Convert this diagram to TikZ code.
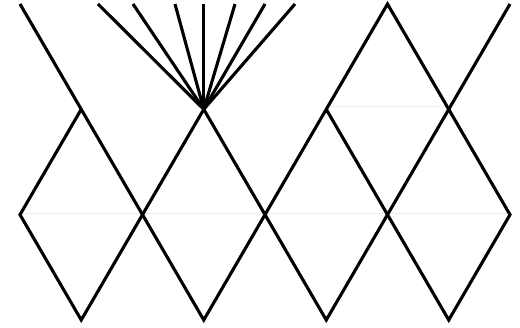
\documentclass[tikz,border=0pt]{standalone}
\begin{document}
\begin{tikzpicture}[x=1pt,y=-1pt,
  edge/.style={line width=3.1pt, line join=miter, line cap=butt, draw=black},
  seam/.style={line width=0.8pt, draw=black!7}]
\useasboundingbox (0,0) rectangle (520,328);
% lattice points
\coordinate (T0) at (20,4);
\coordinate (T2) at (265,4);
\coordinate (T3) at (387.5,4);
\coordinate (T4) at (510,4);
\coordinate (U0) at (81.25,109.3);
\coordinate (U1) at (203.75,109.3);
\coordinate (U2) at (326.25,109.3);
\coordinate (U3) at (448.75,109.3);
\coordinate (M0) at (20,214.7);
\coordinate (M4) at (510,214.7);
\coordinate (B0) at (81.25,320);
\coordinate (B1) at (203.75,320);
\coordinate (B2) at (326.25,320);
\coordinate (B3) at (448.75,320);
% fan ends
\coordinate (F1) at (98,4);
\coordinate (F2) at (133,4);
\coordinate (F3) at (175,4);
\coordinate (F4) at (203.75,4);
\coordinate (F5) at (235,4);
\coordinate (F6) at (295,4);
% faint horizontal seams
\draw[seam] (20,213.5) -- (510,213.5);
\draw[seam] (330,106) -- (445,106);
% black edges
\draw[edge] (U0) -- (M0) -- (B0) -- (T2);
\draw[edge] (T0) -- (B1) -- (T3) -- (M4) -- (B3) -- (U2);
\draw[edge] (U1) -- (B2) -- (T4);
\foreach \f in {F1,F2,F3,F4,F5,F6} \draw[edge] (U1) -- (\f);
\end{tikzpicture}
\end{document}
